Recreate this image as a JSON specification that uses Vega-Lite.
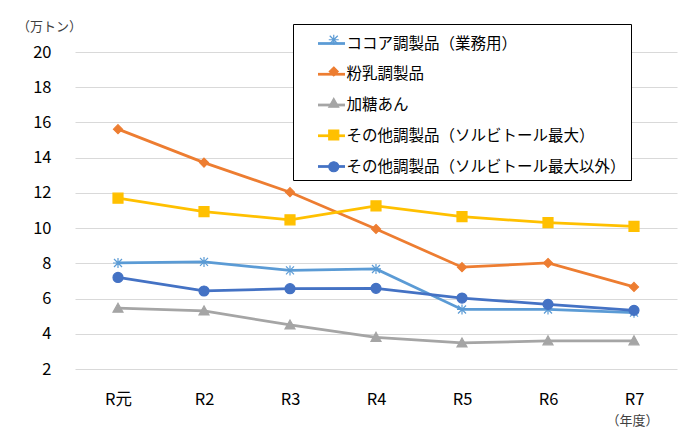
{
  "$schema": "https://vega.github.io/schema/vega-lite/v6.json",
  "autosize": {"type": "none"},
  "padding": {"left": 75, "top": 52, "right": 23, "bottom": 67},
  "width": 602,
  "height": 317,
  "background": "#ffffff",
  "config": {
    "font": "Noto Sans CJK JP",
    "view": {"stroke": null}
  },
  "data": {
    "values": [
      {"year": "R元", "series": "ココア調製品（業務用）", "value": 8.02},
      {"year": "R2", "series": "ココア調製品（業務用）", "value": 8.08},
      {"year": "R3", "series": "ココア調製品（業務用）", "value": 7.6},
      {"year": "R4", "series": "ココア調製品（業務用）", "value": 7.68},
      {"year": "R5", "series": "ココア調製品（業務用）", "value": 5.38},
      {"year": "R6", "series": "ココア調製品（業務用）", "value": 5.38},
      {"year": "R7", "series": "ココア調製品（業務用）", "value": 5.2},
      {"year": "R元", "series": "粉乳調製品", "value": 15.62},
      {"year": "R2", "series": "粉乳調製品", "value": 13.72},
      {"year": "R3", "series": "粉乳調製品", "value": 12.04},
      {"year": "R4", "series": "粉乳調製品", "value": 9.95},
      {"year": "R5", "series": "粉乳調製品", "value": 7.78},
      {"year": "R6", "series": "粉乳調製品", "value": 8.02},
      {"year": "R7", "series": "粉乳調製品", "value": 6.66},
      {"year": "R元", "series": "加糖あん", "value": 5.45},
      {"year": "R2", "series": "加糖あん", "value": 5.3},
      {"year": "R3", "series": "加糖あん", "value": 4.5},
      {"year": "R4", "series": "加糖あん", "value": 3.8},
      {"year": "R5", "series": "加糖あん", "value": 3.48},
      {"year": "R6", "series": "加糖あん", "value": 3.6},
      {"year": "R7", "series": "加糖あん", "value": 3.6},
      {"year": "R元", "series": "その他調製品（ソルビトール最大）", "value": 11.7},
      {"year": "R2", "series": "その他調製品（ソルビトール最大）", "value": 10.94},
      {"year": "R3", "series": "その他調製品（ソルビトール最大）", "value": 10.47},
      {"year": "R4", "series": "その他調製品（ソルビトール最大）", "value": 11.26},
      {"year": "R5", "series": "その他調製品（ソルビトール最大）", "value": 10.65},
      {"year": "R6", "series": "その他調製品（ソルビトール最大）", "value": 10.31},
      {"year": "R7", "series": "その他調製品（ソルビトール最大）", "value": 10.1},
      {"year": "R元", "series": "その他調製品（ソルビトール最大以外）", "value": 7.2},
      {"year": "R2", "series": "その他調製品（ソルビトール最大以外）", "value": 6.43},
      {"year": "R3", "series": "その他調製品（ソルビトール最大以外）", "value": 6.56},
      {"year": "R4", "series": "その他調製品（ソルビトール最大以外）", "value": 6.58},
      {"year": "R5", "series": "その他調製品（ソルビトール最大以外）", "value": 6.03},
      {"year": "R6", "series": "その他調製品（ソルビトール最大以外）", "value": 5.67},
      {"year": "R7", "series": "その他調製品（ソルビトール最大以外）", "value": 5.33}
    ]
  },
  "encoding": {
    "x": {
      "field": "year",
      "type": "ordinal",
      "scale": {"type": "point", "padding": 0.5, "domain": ["R元", "R2", "R3", "R4", "R5", "R6", "R7"]},
      "axis": {
        "title": "（年度）",
        "titleX": 557,
        "titleY": 51,
        "titleAlign": "center",
        "titleBaseline": "middle",
        "titleFontSize": 13,
        "titleFontWeight": "normal",
        "titleColor": "#404040",
        "labelFontSize": 16.5,
        "labelColor": "#000000",
        "labelAngle": 0,
        "labelPadding": 22,
        "domain": false,
        "ticks": false,
        "grid": false
      }
    },
    "y": {
      "field": "value",
      "type": "quantitative",
      "scale": {"domain": [2, 20], "nice": false, "zero": false},
      "axis": {
        "title": "（万トン）",
        "titleAngle": 0,
        "titleX": -26,
        "titleY": -26,
        "titleAlign": "center",
        "titleBaseline": "middle",
        "titleFontSize": 13,
        "titleFontWeight": "normal",
        "titleColor": "#404040",
        "values": [2, 4, 6, 8, 10, 12, 14, 16, 18, 20],
        "labelFontSize": 16.5,
        "labelColor": "#000000",
        "labelPadding": 24,
        "domain": false,
        "ticks": false,
        "gridColor": "#D9D9D9",
        "gridWidth": 1
      }
    }
  },
  "layer": [
    {
      "mark": {"type": "line", "strokeWidth": 2.75},
      "encoding": {
        "stroke": {
          "field": "series",
          "type": "nominal",
          "scale": {
            "domain": ["その他調製品（ソルビトール最大以外）", "その他調製品（ソルビトール最大）", "加糖あん", "粉乳調製品", "ココア調製品（業務用）"],
            "range": ["#4472C4", "#FFC000", "#A5A5A5", "#ED7D31", "#5B9BD5"]
          },
          "legend": {
            "title": null,
            "orient": "none",
            "legendX": 218,
            "legendY": -28,
            "padding": 4.5,
            "strokeColor": "#000000",
            "fillColor": "#ffffff",
            "values": ["ココア調製品（業務用）", "粉乳調製品", "加糖あん", "その他調製品（ソルビトール最大）", "その他調製品（ソルビトール最大以外）"],
            "labelFontSize": 15.5,
            "labelColor": "#000000",
            "labelLimit": 400,
            "labelExpr": "datum.label + '　　 '",
            "rowPadding": 6.75,
            "symbolType": "stroke",
            "symbolSize": 729,
            "symbolStrokeWidth": 2.75,
            "symbolOffset": 19,
            "labelOffset": 0
          }
        }
      }
    },
    {
      "mark": {"type": "point", "filled": false, "opacity": 1, "size": 100, "strokeWidth": 1.2},
      "encoding": {
        "color": {
          "field": "series",
          "type": "nominal",
          "scale": {
            "domain": ["ココア調製品（業務用）", "粉乳調製品", "加糖あん", "その他調製品（ソルビトール最大）", "その他調製品（ソルビトール最大以外）"],
            "range": ["#5B9BD5", "#ED7D31", "#A5A5A5", "#FFC000", "#4472C4"]
          },
          "legend": {
            "title": null,
            "orient": "none",
            "legendX": 218,
            "legendY": -28,
            "padding": 8,
            "strokeColor": null,
            "fillColor": null,
            "labelFontSize": 15.5,
            "labelExpr": "' '",
            "rowPadding": 14.75,
            "symbolSize": 100,
            "symbolStrokeWidth": 1.2,
            "symbolOffset": 25,
            "labelOffset": 0
          }
        },
        "fill": {
          "field": "series",
          "type": "nominal",
          "scale": {
            "domain": ["ココア調製品（業務用）", "粉乳調製品", "加糖あん", "その他調製品（ソルビトール最大）", "その他調製品（ソルビトール最大以外）"],
            "range": ["#5B9BD5", "#ED7D31", "#A5A5A5", "#FFC000", "#4472C4"]
          },
          "legend": {
            "title": null,
            "orient": "none",
            "legendX": 218,
            "legendY": -28,
            "padding": 8,
            "strokeColor": null,
            "fillColor": null,
            "labelFontSize": 15.5,
            "labelExpr": "' '",
            "rowPadding": 14.75,
            "symbolSize": 100,
            "symbolStrokeWidth": 1.2,
            "symbolOffset": 25,
            "labelOffset": 0
          }
        },
        "shape": {
          "field": "series",
          "type": "nominal",
          "scale": {
            "domain": ["ココア調製品（業務用）", "粉乳調製品", "加糖あん", "その他調製品（ソルビトール最大）", "その他調製品（ソルビトール最大以外）"],
            "range": [
              "M-0.8,-0.8L0.8,0.8M-0.8,0.8L0.8,-0.8M0,-1V1M-1,0H1",
              "M0,-0.9L0.9,0L0,0.9L-0.9,0Z",
              "M0,-1L1,0.8L-1,0.8Z",
              "M-1,-1H1V1H-1Z",
              "M-1,0A1,1,0,1,1,1,0A1,1,0,1,1,-1,0Z"
            ]
          },
          "legend": {
            "title": null,
            "orient": "none",
            "legendX": 218,
            "legendY": -28,
            "padding": 8,
            "strokeColor": null,
            "fillColor": null,
            "labelFontSize": 15.5,
            "labelExpr": "' '",
            "rowPadding": 14.75,
            "symbolSize": 100,
            "symbolStrokeWidth": 1.2,
            "symbolOffset": 25,
            "labelOffset": 0
          }
        }
      }
    }
  ]
}
